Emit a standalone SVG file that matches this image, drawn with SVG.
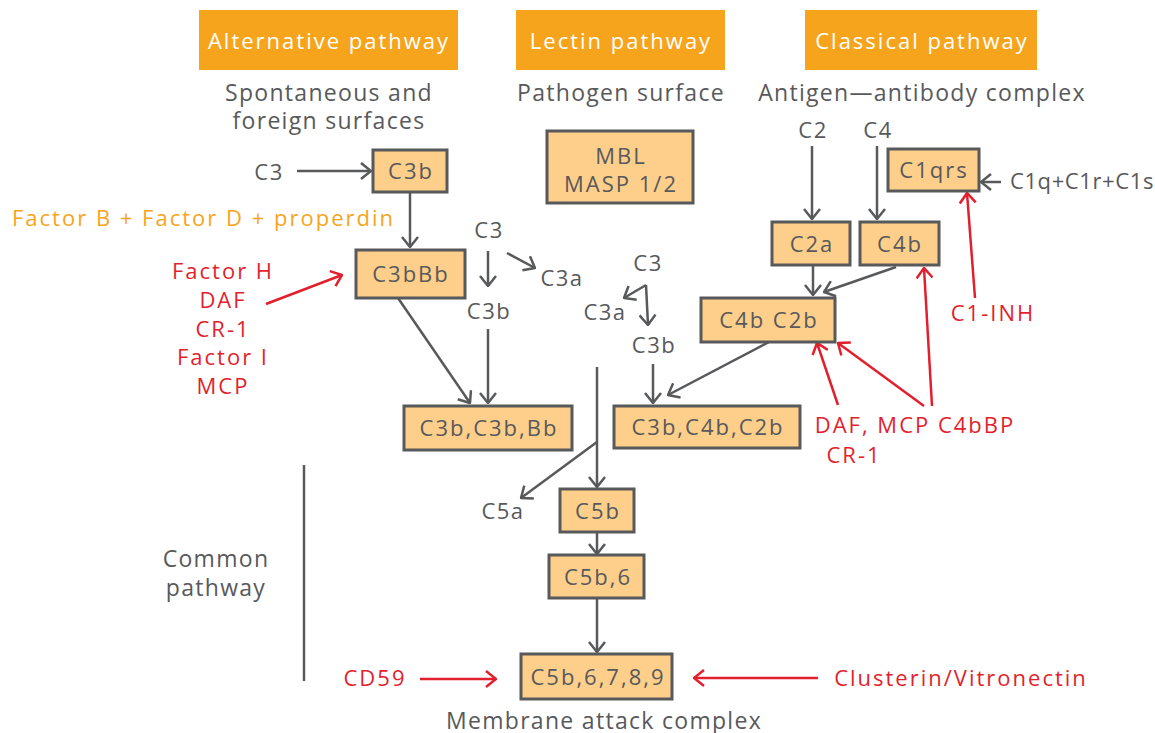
<svg xmlns="http://www.w3.org/2000/svg" width="1155" height="733" viewBox="0 0 1155 733">
<style>
text{font-family:"Open Sans","Noto Sans",sans-serif;}
.hdr{fill:#F7A41D;}
.ht{fill:#fff;font-size:22px;letter-spacing:2px;text-anchor:middle;}
.sub{fill:#58595B;font-size:23px;letter-spacing:1.3px;text-anchor:middle;}
.nd{fill:#FECF8B;stroke:#58595B;stroke-width:3;}
.nt{fill:#58595B;font-size:22px;letter-spacing:2px;text-anchor:middle;}
.lb{fill:#58595B;font-size:22px;letter-spacing:1.5px;text-anchor:middle;}
.rd{fill:#E21F2D;font-size:22px;letter-spacing:2px;text-anchor:middle;}
.og{fill:#F7A41D;font-size:22px;letter-spacing:2px;}
.g{stroke:#58595B;stroke-width:2.5;fill:none;}
.r{stroke:#E21F2D;stroke-width:2.5;fill:none;}
.ga{marker-end:url(#ag);}
.ra{marker-end:url(#ar);}
</style>
<defs>
<marker id="ag" viewBox="0 0 12 18" refX="11" refY="9" markerWidth="12" markerHeight="18" markerUnits="userSpaceOnUse" orient="auto"><path d="M1,1 L11,9 L1,17" fill="none" stroke="#58595B" stroke-width="2.5"/></marker>
<marker id="ar" viewBox="0 0 12 18" refX="11" refY="9" markerWidth="12" markerHeight="18" markerUnits="userSpaceOnUse" orient="auto"><path d="M1,1 L11,9 L1,17" fill="none" stroke="#E21F2D" stroke-width="2.5"/></marker>
</defs>
<g id="headers">
<rect class="hdr" x="199" y="10" width="259" height="60"/><text class="ht" x="329" y="49">Alternative pathway</text>
<rect class="hdr" x="516" y="10" width="209" height="60"/><text class="ht" x="621" y="49">Lectin pathway</text>
<rect class="hdr" x="805" y="10" width="232" height="60"/><text class="ht" x="922" y="49">Classical pathway</text>
</g>
<g id="subtitles">
<text class="sub" x="329" y="101">Spontaneous and</text>
<text class="sub" x="329" y="129">foreign surfaces</text>
<text class="sub" x="621" y="101">Pathogen surface</text>
<text class="sub" x="922" y="101">Antigen—antibody complex</text>
</g>
<g id="connectors">
<line class="g ga" x1="297" y1="171" x2="371" y2="171"/>
<line class="g ga" x1="410" y1="193" x2="410" y2="247"/>
<line class="g ga" x1="488" y1="251" x2="488" y2="286"/>
<line class="g ga" x1="507" y1="253" x2="535" y2="268"/>
<line class="g ga" x1="488" y1="329" x2="488" y2="403"/>
<line class="g ga" x1="398" y1="298" x2="470" y2="403"/>
<line class="g ga" x1="646" y1="285" x2="624" y2="298"/>
<line class="g ga" x1="646" y1="285" x2="648" y2="325"/>
<line class="g ga" x1="653" y1="364" x2="653" y2="403"/>
<line class="g ga" x1="769" y1="342" x2="668" y2="395"/>
<line class="g ga" x1="812" y1="146" x2="812" y2="219"/>
<line class="g ga" x1="877" y1="146" x2="877" y2="219"/>
<line class="g ga" x1="813" y1="266" x2="813" y2="295"/>
<line class="g ga" x1="896" y1="267" x2="824" y2="292"/>
<line class="g ga" x1="1001" y1="182" x2="981" y2="182"/>
<line class="g" x1="304" y1="465" x2="304" y2="681"/>
<line class="g ga" x1="597" y1="367" x2="597" y2="487"/>
<line class="g ga" x1="597" y1="442" x2="521" y2="498"/>
<line class="g ga" x1="597" y1="533" x2="597" y2="554"/>
<line class="g ga" x1="597" y1="599" x2="597" y2="652"/>
<line class="r ra" x1="266" y1="304" x2="342" y2="275"/>
<line class="r ra" x1="975" y1="298" x2="967" y2="193"/>
<line class="r ra" x1="838" y1="405" x2="817" y2="343"/>
<line class="r ra" x1="924" y1="406" x2="838" y2="343"/>
<line class="r ra" x1="932" y1="406" x2="924" y2="268"/>
<line class="r ra" x1="420" y1="679" x2="496" y2="679"/>
<line class="r ra" x1="818" y1="678" x2="694" y2="678"/>
</g>
<g id="labels">
<text class="lb" x="269" y="180">C3</text>
<text class="og" x="12" y="226">Factor B + Factor D + properdin</text>
<text class="lb" x="489" y="238">C3</text>
<text class="lb" x="562" y="286">C3a</text>
<text class="lb" x="489" y="319">C3b</text>
<text class="lb" x="648" y="271">C3</text>
<text class="lb" x="605" y="320">C3a</text>
<text class="lb" x="654" y="353">C3b</text>
<text class="lb" x="813" y="138">C2</text>
<text class="lb" x="878" y="138">C4</text>
<text class="lb" x="1082" y="189" style="letter-spacing:0.6px">C1q+C1r+C1s</text>
<text class="lb" x="503" y="519">C5a</text>
<text class="sub" x="216" y="567">Common</text>
<text class="sub" x="216" y="596">pathway</text>
<text class="sub" x="604" y="729">Membrane attack complex</text>
<text class="rd" x="223" y="279">Factor H</text>
<text class="rd" x="223" y="308">DAF</text>
<text class="rd" x="223" y="337">CR-1</text>
<text class="rd" x="223" y="365">Factor I</text>
<text class="rd" x="223" y="394">MCP</text>
<text class="rd" x="993" y="321">C1-INH</text>
<text class="rd" x="915" y="433">DAF, MCP C4bBP</text>
<text class="rd" x="854" y="463">CR-1</text>
<text class="rd" x="375" y="686">CD59</text>
<text class="rd" x="961" y="686">Clusterin/Vitronectin</text>
</g>
<g id="n-c3b"><rect class="nd" x="373" y="150" width="74" height="42"/><text class="nt" x="411" y="179">C3b</text></g>
<g id="n-mbl"><rect class="nd" x="547" y="131" width="146" height="72"/><text class="nt" x="621" y="164">MBL</text><text class="nt" x="621" y="192">MASP 1/2</text></g>
<g id="n-c1qrs"><rect class="nd" x="888" y="149" width="91" height="42"/><text class="nt" x="934" y="178">C1qrs</text></g>
<g id="n-c2a"><rect class="nd" x="772" y="222" width="78" height="43"/><text class="nt" x="812" y="252">C2a</text></g>
<g id="n-c4b"><rect class="nd" x="860" y="222" width="79" height="43"/><text class="nt" x="900" y="252">C4b</text></g>
<g id="n-c3bbb"><rect class="nd" x="356" y="250" width="109" height="48"/><text class="nt" x="411" y="282">C3bBb</text></g>
<g id="n-c4bc2b"><rect class="nd" x="701" y="298" width="134" height="44"/><text class="nt" x="769" y="328">C4b C2b</text></g>
<g id="n-c3bc3bbb"><rect class="nd" x="404" y="406" width="168" height="44"/><text class="nt" x="489" y="436">C3b,C3b,Bb</text></g>
<g id="n-c3bc4bc2b"><rect class="nd" x="614" y="406" width="186" height="42"/><text class="nt" x="708" y="435">C3b,C4b,C2b</text></g>
<g id="n-c5b"><rect class="nd" x="560" y="489" width="74" height="43"/><text class="nt" x="598" y="519">C5b</text></g>
<g id="n-c5b6"><rect class="nd" x="549" y="555" width="95" height="43"/><text class="nt" x="598" y="585">C5b,6</text></g>
<g id="n-mac"><rect class="nd" x="521" y="654" width="151" height="45"/><text class="nt" x="598" y="685">C5b,6,7,8,9</text></g>
</svg>
